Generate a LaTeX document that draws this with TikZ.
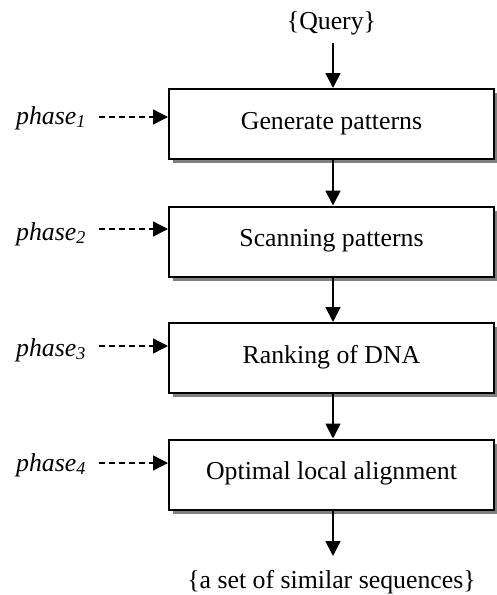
\documentclass[tikz,border=0pt]{standalone}
\usepackage{fontspec}
\setmainfont{Liberation Serif}
\usetikzlibrary{arrows.meta}
\begin{document}
\begin{tikzpicture}[x=1pt,y=-1pt,
  every node/.style={font=\fontsize{25.8}{30}\selectfont},
  stepbox/.style={draw=black,line width=2pt,fill=white,minimum width=325pt,minimum height=70pt,inner sep=0pt},
  shadowbox/.style={fill=black!50,draw=none,minimum width=325pt,minimum height=70pt,inner sep=0pt},
  flow/.style={line width=1.8pt,-{Triangle[length=15pt,width=15pt]}},
  dflow/.style={line width=1.4pt,dash pattern=on 5.5pt off 4.5pt,-{Triangle[length=15pt,width=15pt]}},
  phaselbl/.style={anchor=center,inner sep=0pt}]
\useasboundingbox (0,0) rectangle (497,595);
% shadows
\foreach \yy in {124,241.5,358,474.5}{
  \node[shadowbox] at (335,\yy+4) {};
}
\node[stepbox] (b1) at (331.5,124) {\raisebox{7pt}{Generate patterns}};
\node[stepbox] (b2) at (331.5,241.5) {\raisebox{8pt}{Scanning patterns}};
\node[stepbox] (b3) at (331.5,358) {\raisebox{8pt}{Ranking of DNA}};
\node[stepbox] (b4) at (331.5,474.5) {\raisebox{8pt}{Optimal local alignment}};
\node[inner sep=0pt] (q) at (331.5,23) {\{Query\}};
\node[inner sep=0pt] (out) at (331.5,582) {\{a set of similar sequences\}};
\coordinate (qs) at (333,43);
\coordinate (oe) at (333,556);
\draw[flow] (qs) -- (b1.north -| qs);
\draw[flow] (b1.south -| qs) -- (b2.north -| qs);
\draw[flow] (b2.south -| qs) -- (b3.north -| qs);
\draw[flow] (b3.south -| qs) -- (b4.north -| qs);
\draw[flow] (b4.south -| qs) -- (oe);
% phase labels
\node[phaselbl] (p1) at (51,118) {\textit{phase\textsubscript{1}}};
\node[phaselbl] (p2) at (51,234) {\textit{phase\textsubscript{2}}};
\node[phaselbl] (p3) at (51,350) {\textit{phase\textsubscript{3}}};
\node[phaselbl] (p4) at (51,465) {\textit{phase\textsubscript{4}}};
\foreach \i/\yy in {1/117,2/229,3/346,4/463}{
  \coordinate (s\i) at (99,\yy);
  \draw[dflow] (s\i) -- (b\i.west |- s\i);
}
\end{tikzpicture}
\end{document}
